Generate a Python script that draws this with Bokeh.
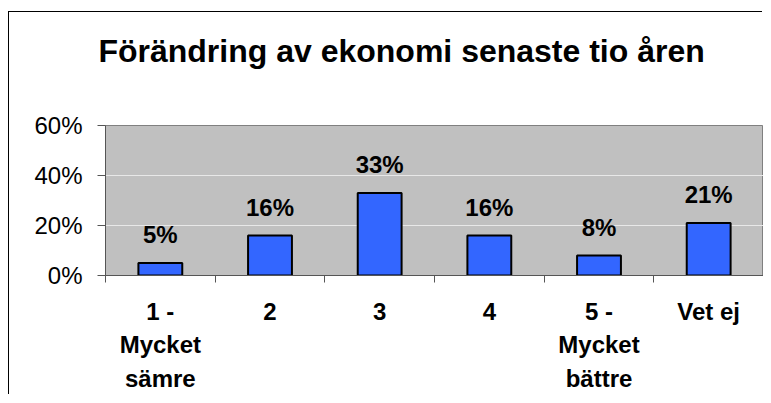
import numpy as np
from bokeh.plotting import figure
from bokeh.models import (ColumnDataSource, LabelSet, Range1d, LinearAxis,
                          FixedTicker, PrintfTickFormatter)
from bokeh.core.properties import value
from bokeh.embed import file_html
from bokeh.resources import INLINE

# ---- data ----
title_text = "Förändring av ekonomi senaste tio åren"
categories = ["1 -\nMycket\nsämre", "2", "3", "4", "5 -\nMycket\nbättre", "Vet ej"]
values = [5, 16, 33, 16, 8, 21]
y_ticks = [0, 20, 40, 60]
title_pos = 3.2  # horizontal centre of the title, in category units

FONT = "Liberation Sans"
x = list(range(1, len(categories) + 1))
src = ColumnDataSource(dict(x=x, v=values, lab=[f"{v}%" for v in values]))

p = figure(width=754, height=383, output_backend="svg", toolbar_location=None,
           x_range=Range1d(0.5, len(categories) + 0.5), y_range=Range1d(0, 60),
           min_border_left=96, min_border_right=0, min_border_top=113, min_border_bottom=116,
           margin=(12, 0, 0, 9),
           styles={"box-shadow": "-1px -1px 0 0 black"})
p.background_fill_color = "#c0c0c0"
p.border_fill_color = "white"
p.outline_line_color = "#808080"
p.outline_line_width = 1

p.vbar(x="x", top="v", width=0.4, source=src, fill_color="#3366ff",
       line_color="black", line_width=2)

labels = LabelSet(x="x", y="v", text="lab", source=src, y_offset=20,
                  text_align="center", text_baseline="alphabetic",
                  text_font=value(FONT), text_font_style="bold", text_font_size="24px",
                  text_color="black")
p.add_layout(labels)

# bottom x axis (grab before adding the title axis)
xa = p.below[0]
xa.ticker = FixedTicker(ticks=x, minor_ticks=[i + 0.5 for i in range(0, len(categories) + 1)])
xa.major_label_overrides = {i: c for i, c in zip(x, categories)}
xa.major_tick_line_color = None
xa.minor_tick_out = 7
xa.minor_tick_in = 0
xa.minor_tick_line_color = "#555555"
xa.axis_line_color = "#555555"
xa.major_label_text_font = FONT
xa.major_label_text_font_style = "bold"
xa.major_label_text_font_size = "24px"
xa.major_label_text_line_height = 1.25
xa.major_label_standoff = 15
xa.major_label_text_color = "black"

# y axis
ya = p.left[0]
ya.ticker = FixedTicker(ticks=y_ticks)
ya.formatter = PrintfTickFormatter(format="%d%%")
ya.major_tick_out = 8
ya.major_tick_in = 0
ya.minor_tick_line_color = None
ya.major_tick_line_color = "#555555"
ya.axis_line_color = "#555555"
ya.major_label_text_font = FONT
ya.major_label_text_font_size = "24px"
ya.major_label_standoff = 15
ya.major_label_text_color = "black"

# chart title: single tick label on an otherwise invisible axis above the plot area
ta = LinearAxis(ticker=FixedTicker(ticks=[title_pos], minor_ticks=[]),
                major_label_overrides={title_pos: title_text},
                axis_line_color=None, major_tick_line_color=None, minor_tick_line_color=None,
                major_tick_out=0, major_tick_in=0, minor_tick_out=0, minor_tick_in=0,
                major_label_standoff=57, major_label_text_font=FONT,
                major_label_text_font_style="bold", major_label_text_font_size="32px",
                major_label_text_color="black")
p.add_layout(ta, "above")

p.xgrid.grid_line_color = None
p.ygrid.grid_line_color = "#e8e8e8"
p.ygrid.grid_line_width = 1

open("out.html", "w").write(file_html(p, INLINE))
